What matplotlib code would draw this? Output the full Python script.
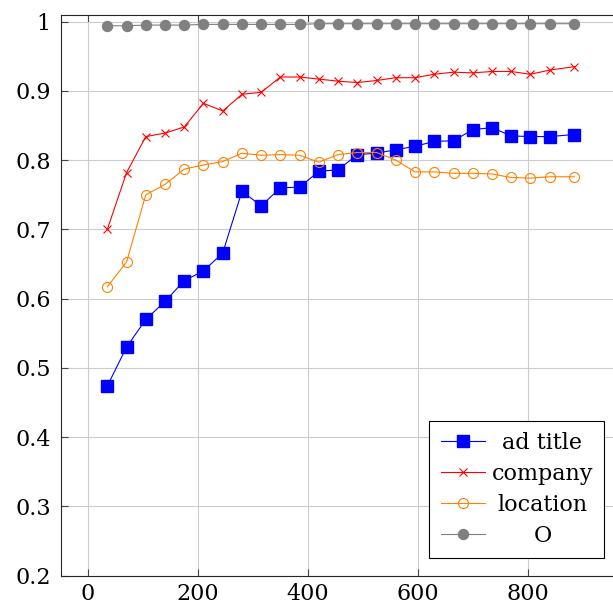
import matplotlib
matplotlib.use("Agg")
import matplotlib.pyplot as plt
from matplotlib.ticker import FuncFormatter, MultipleLocator
from matplotlib.offsetbox import VPacker

# training steps and per-field scores
steps = [35, 70, 105, 140, 175, 210, 245, 280, 315, 350, 385, 420, 455,
         490, 525, 560, 595, 630, 665, 700, 735, 770, 805, 840, 885]
ad_title = [0.474, 0.530, 0.570, 0.596, 0.626, 0.640, 0.666, 0.755, 0.734,
            0.760, 0.761, 0.784, 0.786, 0.808, 0.810, 0.815, 0.820, 0.827,
            0.828, 0.844, 0.847, 0.835, 0.834, 0.834, 0.837]
company = [0.700, 0.782, 0.834, 0.839, 0.848, 0.882, 0.871, 0.895, 0.898,
           0.920, 0.920, 0.917, 0.914, 0.912, 0.915, 0.919, 0.919, 0.924,
           0.927, 0.926, 0.928, 0.928, 0.924, 0.930, 0.935]
location = [0.617, 0.653, 0.750, 0.765, 0.787, 0.793, 0.798, 0.810, 0.807,
            0.808, 0.807, 0.797, 0.808, 0.811, 0.811, 0.800, 0.783, 0.783,
            0.781, 0.781, 0.780, 0.775, 0.774, 0.776, 0.776]
other = [0.994, 0.994, 0.995, 0.995, 0.995, 0.996, 0.996, 0.996, 0.996,
         0.996, 0.996, 0.997, 0.997, 0.997, 0.997, 0.997, 0.997, 0.997,
         0.997, 0.997, 0.997, 0.997, 0.997, 0.997, 0.997]
labels = ["ad title", "company", "location", "O"]

plt.rcParams['font.family'] = ['DejaVu Serif']
plt.rcParams['font.size'] = 16

fig = plt.figure(figsize=(6.13, 6.02), dpi=100)
ax = fig.add_axes([0.0989, 0.0437, 0.9143, 0.9319])

ax.plot(steps, ad_title, color='#0000ff', marker='s', ms=8.6, lw=0.8, label=labels[0])
ax.plot(steps, company, color='#ff0000', marker='x', ms=6, mew=0.8, lw=0.8, label=labels[1])
ax.plot(steps, location, color='#ff8000', marker='o', mfc='none', ms=7.2, mew=0.8, lw=0.8, label=labels[2])
ax.plot(steps, other, color='#808080', marker='o', ms=7.2, lw=0.8, label=labels[3])

ax.set_xlim(-50, 970)
ax.set_ylim(0.2, 1.01)
ax.xaxis.set_major_locator(MultipleLocator(200))
ax.yaxis.set_major_locator(MultipleLocator(0.1))
ax.yaxis.set_major_formatter(FuncFormatter(lambda v, p: f"{v:g}"))

ax.grid(True, color='#cccccc', lw=0.8)
ax.set_axisbelow(True)
ax.tick_params(direction='in', length=5, width=0.8, color='#444444',
               top=True, right=True, pad=7)
ax.tick_params(axis='x', pad=5)
for s in ax.spines.values():
    s.set_linewidth(0.8)
    s.set_color('#262626')

leg = ax.legend(loc='lower right', bbox_to_anchor=(0.970, 0.032), borderaxespad=0,
                fancybox=False, framealpha=1, edgecolor='black',
                handlelength=2.0, handletextpad=0.3, labelspacing=0.4,
                borderpad=0.5)
leg.get_frame().set_linewidth(0.8)

# centre the labels within the text column
renderer = fig.canvas.get_renderer()
text_w = max(t.get_window_extent(renderer).width for t in leg.get_texts())
for col in leg._legend_handle_box.get_children():
    for row in col.get_children():
        row._children[1] = VPacker(children=[row._children[1]], align='center',
                                   width=text_w, pad=0, sep=0)

fig.savefig('out.png', dpi=100)
